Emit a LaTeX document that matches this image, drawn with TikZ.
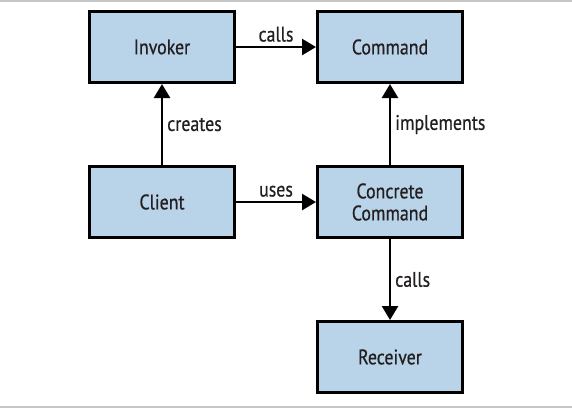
\documentclass[tikz,border=0pt]{standalone}
\usepackage{fontspec}
\setmainfont{PT Sans}[FakeStretch=0.85, FakeBold=0.6]
\usetikzlibrary{arrows.meta}
\usetikzlibrary{positioning}
\definecolor{BoxBlue}{RGB}{185,211,233}
\definecolor{InkGray}{RGB}{35,31,32}
\tikzstyle{BlueBody}  = [fill=BoxBlue, draw=black, text=InkGray, font=\fontsize{21}{22}\selectfont]
\tikzstyle{Box}       = [rectangle, line width = 3pt, minimum width = 145pt, minimum height = 71pt, align=center]
\tikzstyle{Link}      = [draw=black, line width = 2.5pt, -{Triangle[length=14pt, width=16pt]}]
\tikzstyle{LinkLabel} = [text=InkGray, font=\fontsize{21}{22}\selectfont, inner sep=4pt]

\begin{document}
\begin{tikzpicture}[x=1pt, y=1pt, node distance = 81pt and 80pt]

\useasboundingbox (0,0) rectangle (572,-408);
\draw[gray!45, line width = 1.5pt] (0,-1) -- (572,-1);
\draw[gray!45, line width = 1.5pt] (0,-407) -- (572,-407);

%% ------------------------------------------------------------------ [ Top row ]
\node (invoker) [Box, BlueBody] at (162,-47) {Invoker};
\node (command) [Box, BlueBody,
                 right = of invoker] {Command};

%% --------------------------------------------------------------- [ Middle row ]
\node (client) [Box, BlueBody,
                below = of invoker] {Client};
\node (concrete) [Box, BlueBody,
                  below = of command] {Concrete\\Command};

%% ----------------------------------------------------------------- [ Receiver ]
\node (receiver) [Box, BlueBody,
                  below = of concrete] {Receiver};

%% ------------------------------------------------------------------ [ Links ]
\draw[Link] (invoker) -- node[LinkLabel, above] {calls} (command);
\draw[Link] (client) -- node[LinkLabel, right] {creates} (invoker);
\draw[Link] (client) -- node[LinkLabel, above] {uses} (concrete);
\draw[Link] (concrete) -- node[LinkLabel, right] {implements} (command);
\draw[Link] (concrete) -- node[LinkLabel, right] {calls} (receiver);
\end{tikzpicture}
\end{document}
